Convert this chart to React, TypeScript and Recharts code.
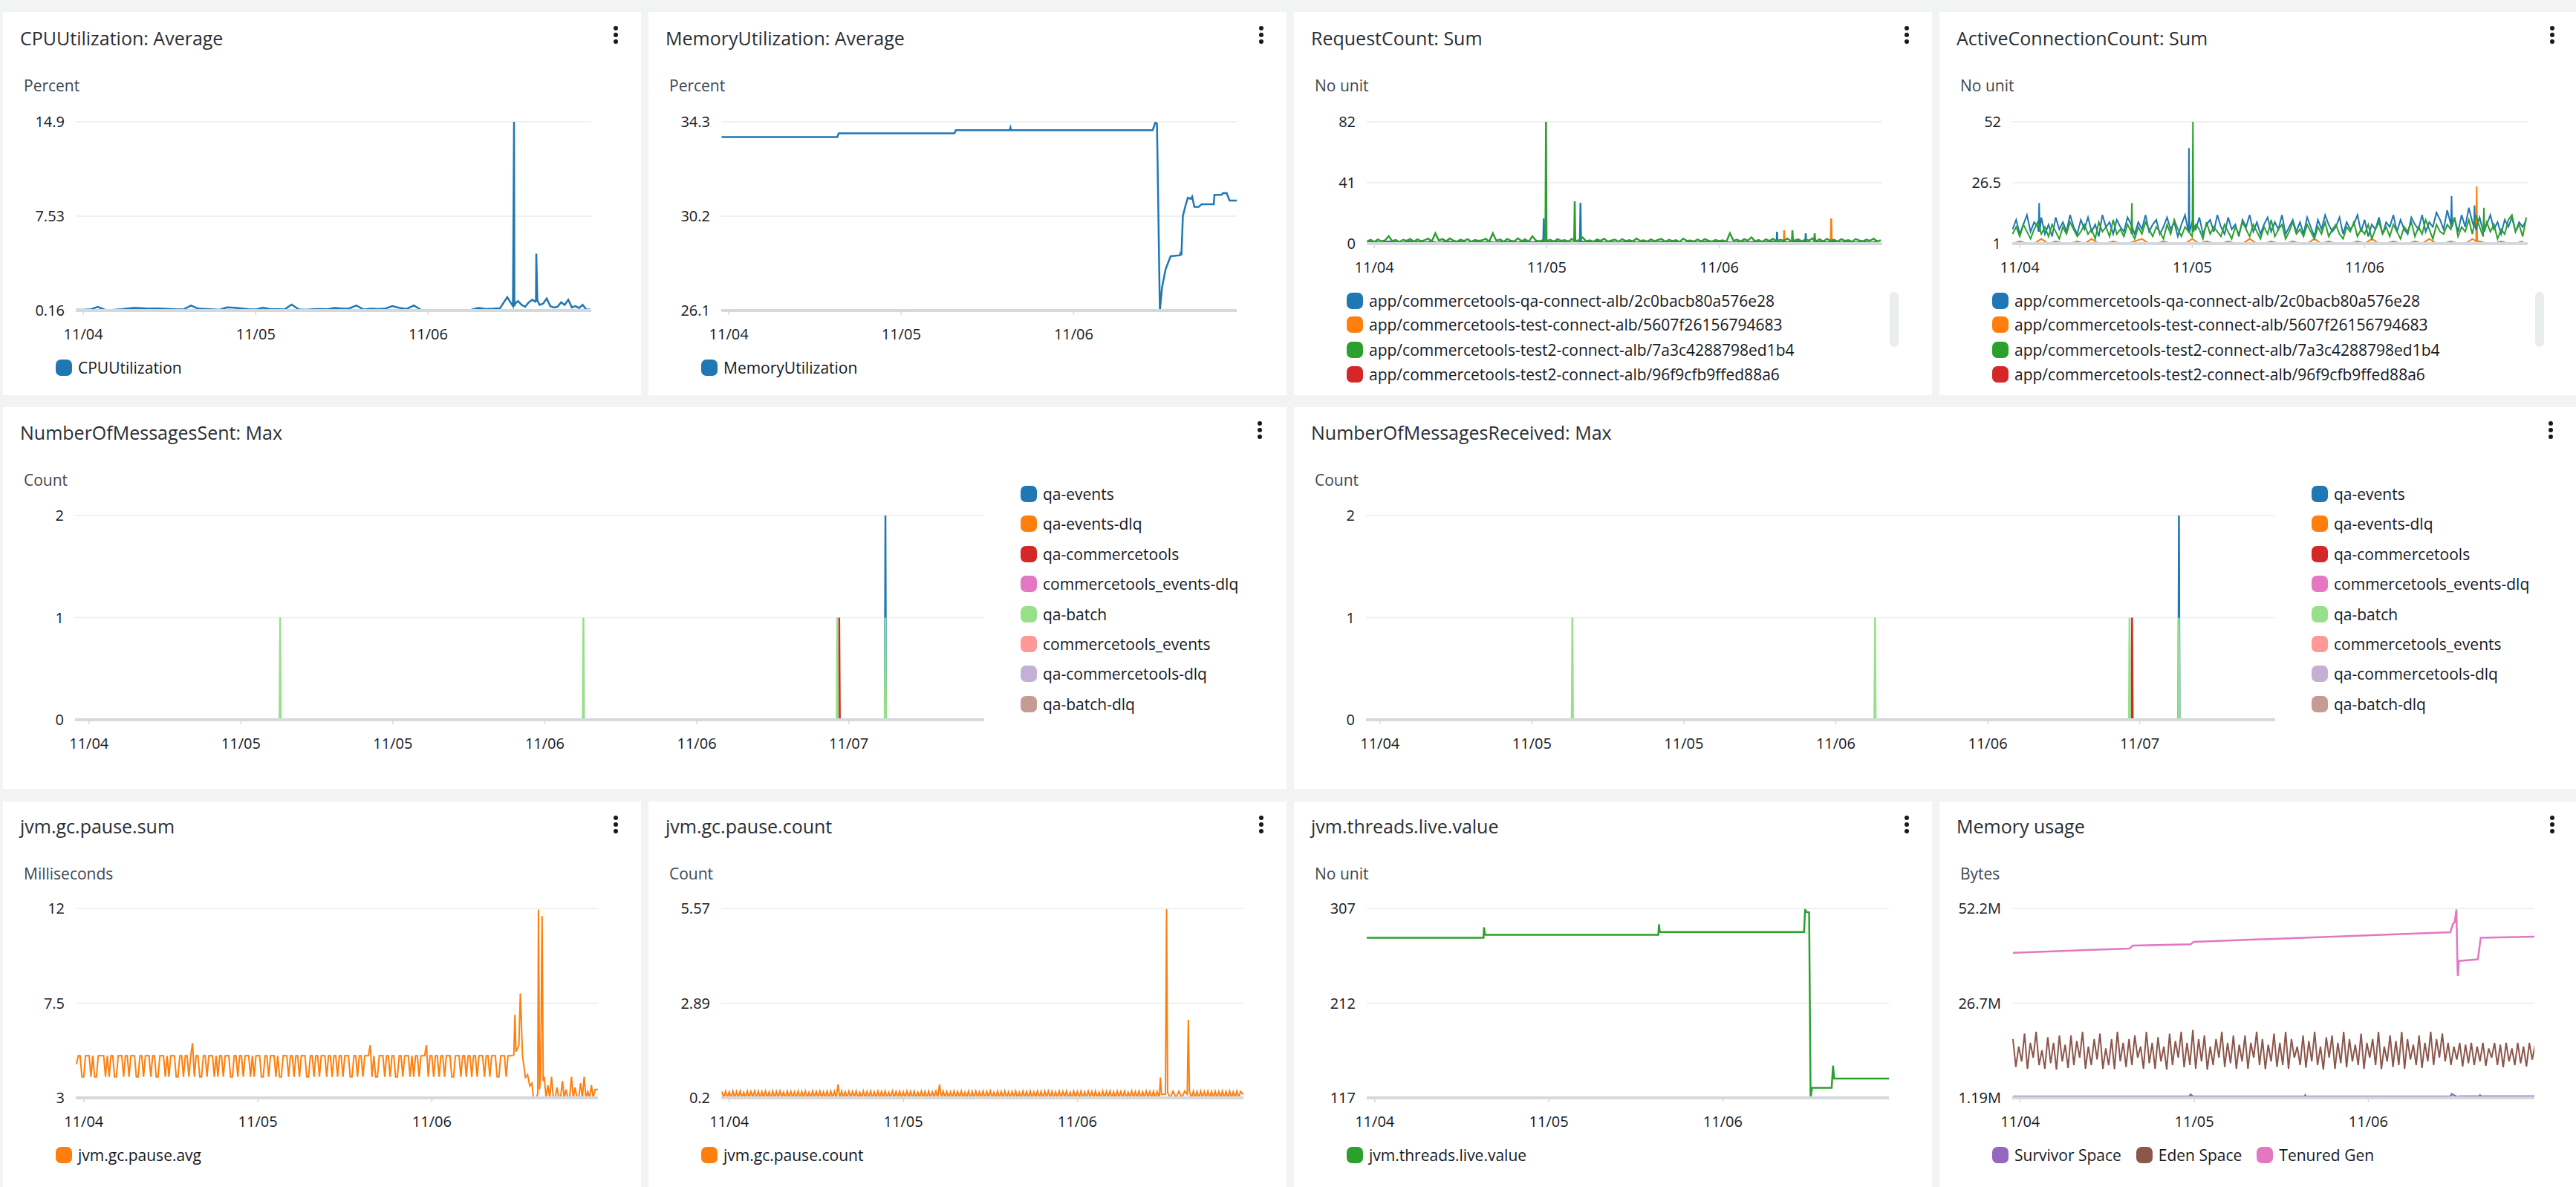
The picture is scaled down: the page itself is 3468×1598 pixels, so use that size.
import React from 'react';
import { LineChart, Line, XAxis, YAxis, CartesianGrid } from 'recharts';

type Pt = { t: number; v: number | null };
type Pair = [number, number | null];

// small helpers: typed values -> rows of {t (hours from 11/04), v}
const every = (start: number, step: number, values: number[]): Pt[] =>
  values.map((v, i) => ({ t: Math.round((start + i * step) * 1000) / 1000, v }));
const pairs = (list: Pair[]): Pt[] => list.map(([t, v]) => ({ t, v }));
const merge = (...parts: Pt[][]): Pt[] => parts.flat().sort((a, b) => a.t - b.t);

const FONT = '"Open Sans", "Noto Sans", sans-serif';

const C = {
  blue: '#1f77b4', orange: '#ff7f0e', green: '#2ca02c', red: '#d62728',
  purple: '#9467bd', brown: '#8c564b', pink: '#e377c2',
  lightGreen: '#98df8a', lightRed: '#ff9896', lightPurple: '#c5b0d5', lightBrown: '#c49c94',
};

// ---------- x axis ticks ----------
const dayTicks = [0, 24, 48];
const dayLabels = ['11/04', '11/05', '11/06'];
const halfDayTicks = [0, 12, 24, 36, 48, 60];
const halfDayLabels = ['11/04', '11/05', '11/05', '11/06', '11/06', '11/07'];

// ---------- CPUUtilization ----------
const cpuHourly = [
  0.22, 0.22, 0.24, 0.45, 0.22, 0.2, 0.24, 0.3, 0.36, 0.35,
  0.3, 0.32, 0.3, 0.28, 0.24, 0.26, 0.55, 0.3, 0.28, 0.25,
  0.22, 0.4, 0.38, 0.32, 0.26, 0.24, 0.38, 0.28, 0.26, 0.24,
  0.62, 0.24, 0.22, 0.26, 0.28, 0.26, 0.36, 0.3, 0.32, 0.55,
  0.24, 0.3, 0.28, 0.3, 0.5, 0.36, 0.28, 0.55, 0.22, 0.18,
  0.17, 0.17, 0.17, 0.17, 0.18, 0.22, 0.36, 0.28, 0.3, 0.34,
  1.2, 0.5, 0.6, 0.8, 0.9, 0.7, 0.5, 0.45, 0.6, 0.4,
  0.35, 0.25,
];
const cpuExtra: Pair[] = [
  [59.8, 0.5], [59.95, 14.9], [60.1, 0.7], [60.5, 0.9], [61.5, 0.45], [62.5, 1.0],
  [62.9, 0.85], [63.05, 4.6], [63.2, 0.95], [63.5, 0.6], [64.5, 1.1], [65.5, 0.4],
  [66.5, 0.8], [67.5, 1.0], [68.5, 0.5], [69.5, 0.6], [70.7, 0.22],
];

// ---------- MemoryUtilization ----------
const memUtilPoints: Pair[] = [
  [-1, 33.64], [15.1, 33.64], [15.3, 33.8], [31.4, 33.8], [31.6, 33.94], [39.1, 33.94],
  [39.2, 34.05], [39.3, 33.94], [59.0, 33.94], [59.4, 34.3], [59.6, 34.2], [60.0, 26.1],
  [60.3, 27.1], [60.8, 27.9], [61.5, 28.46], [62.8, 28.5], [62.9, 28.65], [63.0, 28.5],
  [63.2, 30.2], [63.6, 30.7], [63.9, 31.0], [64.3, 30.95], [64.5, 31.05], [64.8, 30.6],
  [65.4, 30.6], [65.8, 30.72], [67.5, 30.72], [67.6, 31.13], [68.6, 31.13], [68.8, 31.2],
  [69.3, 31.2], [69.7, 30.88], [70.7, 30.88],
];

// ---------- RequestCount ----------
const reqBlue = [
  0.8, 1.2, 0.5, 1.5, 0.9, 0.6, 1.8, 1.1, 0.7, 1.3,
  0.4, 1.6, 0.9, 1.2, 0.5, 1.9, 0.8, 1.1, 0.6, 1.4,
  1.0, 0.7, 1.5, 0.9, 1.2, 0.6, 1.7, 0.8, 1.0, 0.5,
  1.3, 0.9, 1.6, 0.7, 1.1, 0.4, 1.4, 1.0, 0.8, 1.5,
  0.6, 1.2, 0.9, 1.7, 0.5, 1.1, 0.8, 1.3, 0.7, 1.6,
  1.0, 0.6, 1.4, 0.9, 1.2, 0.5, 1.5, 0.8, 1.1, 0.7,
  1.8, 1.0, 0.6, 1.3, 0.9, 1.5, 0.7, 1.2, 0.8, 1.4,
  0.6, 1.1,
];
const reqOrange = [
  0.3, 0.1, 0.4, 0.2, 0.5, 0.1, 0.3, 0.6, 0.2, 0.4,
  0.1, 0.3, 0.5, 0.2, 0.4, 0.1, 0.6, 0.3, 0.2, 0.5,
  0.1, 0.4, 0.3, 0.2, 0.6, 0.1, 0.3, 0.5, 0.2, 0.4,
  0.3, 0.1, 0.5, 0.2, 0.4, 0.6, 0.1, 0.3, 0.2, 0.5,
  0.4, 0.1, 0.3, 0.6, 0.2, 0.4, 0.1, 0.5, 0.3, 0.2,
  0.6, 0.1, 0.4, 0.3, 0.2, 0.5, 0.1, 0.3, 0.4, 0.2,
  0.5, 0.3, 0.1, 0.4, 0.6, 0.2, 0.3, 0.1, 0.5, 0.2,
  0.4, 0.3,
];
const reqGreen = [
  1.5, 2.5, 1.2, 2.8, 1.6, 2.2, 5.0, 1.8, 2.4, 1.1,
  2.6, 1.9, 3.1, 1.4, 2.9, 1.7, 2.3, 3.4, 1.5, 7.0,
  2.0, 3.2, 1.6, 3.5, 2.1, 1.3, 2.7, 1.8, 3.0, 1.2,
  2.5, 1.9, 2.2, 3.3, 1.4, 7.0, 1.9, 2.8, 1.3, 3.2,
  2.0, 1.5, 3.6, 1.7, 2.9, 1.4, 5.0, 2.1, 1.6, 2.5,
  1.8, 2.6, 1.2, 3.0, 1.9, 2.3, 1.5, 3.1, 1.7, 2.4,
  4.2, 1.6, 2.2, 1.3, 2.8, 1.9, 3.3, 1.4, 2.1, 2.7,
  1.2, 3.0, 1.8, 2.4, 1.5, 3.5, 1.9, 2.2, 1.4, 2.9,
  1.7, 2.5, 3.2, 1.3, 2.6, 1.8, 2.3, 1.2, 3.4, 1.9,
  2.1, 1.5, 2.8, 1.6, 3.1, 2.0, 1.4, 2.5, 1.8, 2.2,
  1.3, 7.0, 1.9, 2.7, 1.5, 3.0, 2.1, 4.3, 1.6, 2.4,
  1.2, 2.9, 1.8, 3.3, 1.5, 2.6, 2.0, 3.4, 1.7, 2.2,
  3.0, 1.6, 2.8, 2.1, 3.5, 1.8, 2.9, 1.5, 3.2, 2.0,
  2.6, 1.4, 3.0, 1.9, 2.4, 1.3, 3.1, 2.2, 1.6, 2.7,
  1.9, 3.4, 1.5, 2.3,
];
const reqRed: Pair[] = [[-1.05, 0.1], [70.7, 0.1]];
const reqGreenSpikes: Pair[] = [
  [23.82, 2], [23.9, 82], [23.98, 2], [27.82, 2], [27.9, 28.5], [27.98, 2],
  [58.12, 2], [58.2, 9], [58.28, 2], [61.22, 2], [61.3, 7], [61.38, 2],
];
const reqBlueSpikes: Pair[] = [
  [23.52, 1], [23.6, 17], [23.68, 1], [28.62, 1], [28.7, 27.5], [28.78, 1],
  [55.97, 1], [56.05, 8], [56.13, 1], [59.97, 1], [60.05, 7], [60.13, 1],
];
const reqOrangeSpikes: Pair[] = [
  [56.92, 0.3], [57.05, 9], [57.13, 0.3], [63.52, 0.3], [63.6, 17], [63.68, 0.3],
];

// ---------- ActiveConnectionCount ----------
const accBlue = [
  7, 11, 5, 9, 13, 6, 10, 8, 12, 5,
  9, 4, 12, 7, 10, 6, 13, 8, 5, 11,
  7, 12, 6, 9, 4, 13, 8, 10, 5, 11,
  8, 6, 12, 9, 5, 10, 7, 13, 6, 9,
  11, 5, 8, 12, 7, 10, 4, 9, 13, 6,
  10, 7, 12, 5, 9, 11, 6, 13, 8, 5,
  12, 7, 9, 4, 11, 8, 13, 6, 10, 5,
  9, 12, 6, 10, 7, 13, 5, 8, 11, 6,
  10, 5, 12, 8, 4, 11, 7, 13, 9, 6,
  8, 12, 5, 10, 7, 9, 13, 6, 11, 4,
  9, 7, 12, 5, 10, 8, 13, 6, 11, 7,
  5, 12, 9, 7, 13, 6, 10, 8, 14, 11,
  7, 15, 9, 12, 6, 13, 8, 16, 10, 7,
  12, 6, 9, 13, 7, 10, 5, 11, 8, 12,
  6, 10, 8, 11,
];
const accGreen = [
  5, 8, 4, 9, 6, 3, 7, 10, 5, 8,
  4, 9, 6, 3, 8, 5, 10, 7, 4, 6,
  9, 5, 7, 3, 10, 6, 8, 4, 11, 5,
  7, 4, 9, 6, 3, 8, 5, 10, 7, 4,
  8, 6, 3, 9, 5, 11, 7, 4, 8, 6,
  4, 9, 7, 3, 10, 5, 8, 6, 4, 9,
  6, 3, 8, 5, 10, 7, 4, 9, 6, 3,
  8, 5, 11, 4, 7, 9, 3, 6, 10, 5,
  7, 4, 9, 6, 3, 8, 5, 10, 4, 7,
  9, 5, 3, 8, 6, 10, 4, 7, 5, 9,
  3, 7, 10, 5, 8, 4, 9, 6, 3, 8,
  6, 10, 4, 8, 5, 11, 7, 3, 9, 6,
  5, 9, 7, 12, 4, 8, 6, 11, 5, 13,
  8, 4, 10, 6, 9, 3, 7, 5, 11, 13,
  6, 9, 4, 12,
];
const accOrange = [
  1, 2, 1, 1, 3, 1, 2, 1, 1, 2,
  1, 3, 1, 1, 2, 1, 1, 2, 3, 1,
  1, 2, 1, 1, 1, 3, 1, 2, 1, 1,
  2, 1, 1, 3, 1, 1, 2, 1, 1, 2,
  1, 1, 3, 1, 2, 1, 1, 1, 2, 1,
  3, 1, 1, 2, 1, 1, 2, 1, 3, 1,
  1, 2, 1, 1, 3, 2, 1, 1, 2, 1,
  1, 2,
];
const accRed: Pair[] = [[-1.05, 1], [70.7, 1]];
const accBlueSpikes: Pair[] = [
  [2.62, 6], [2.7, 18], [2.78, 6], [23.47, 6], [23.55, 41], [23.63, 6],
  [60.02, 8], [60.1, 21], [60.18, 8], [63.22, 8], [63.3, 17], [63.38, 8],
];
const accGreenSpikes: Pair[] = [
  [15.52, 5], [15.6, 18], [15.68, 5], [24.02, 6], [24.1, 52], [24.18, 6],
  [64.52, 6], [64.6, 16], [64.68, 6],
];
const accOrangeSpikes: Pair[] = [[63.52, 2], [63.6, 25], [63.68, 2]];

// ---------- NumberOfMessagesSent ----------
const sentFlat: Pair[] = [[-1.1, 0], [70.7, 0]];
const sentQaEvents: Pair[] = [[-1.1, 0], [62.85, 0], [62.9, 2], [62.95, 0], [70.7, 0]];
const sentQaCommercetools: Pair[] = [[-1.1, 0], [59.2, 0], [59.25, 1], [59.3, 0], [70.7, 0]];
const sentQaBatch: Pair[] = [
  [-1.1, 0], [15.05, 0], [15.1, 1], [15.15, 0], [39.0, 0], [39.05, 1], [39.1, 0],
  [59.05, 0], [59.1, 1], [59.15, 0], [62.85, 0], [62.9, 1], [62.95, 0], [70.7, 0],
];
const sentQaBatchDlq: Pair[] = [
  [10.6, 0], [16.6, 0], [16.65, null], [34.4, 0], [40.7, 0], [40.75, null], [58.4, 0], [66.2, 0],
];

// ---------- NumberOfMessagesReceived ----------
const recvQaEvents: Pair[] = [[-1.1, 0], [63.05, 0], [63.1, 2], [63.15, 0], [70.7, 0]];
const recvQaCommercetools: Pair[] = [[-1.1, 0], [59.35, 0], [59.4, 1], [59.45, 0], [70.7, 0]];
const recvQaBatch: Pair[] = [
  [-1.1, 0], [15.15, 0], [15.2, 1], [15.25, 0], [39.05, 0], [39.1, 1], [39.15, 0],
  [59.15, 0], [59.2, 1], [59.25, 0], [63.05, 0], [63.1, 1], [63.15, 0], [70.7, 0],
];
const recvQaBatchDlq: Pair[] = [
  [10.5, 0], [16.5, 0], [16.55, null], [34.5, 0], [40.7, 0], [40.75, null], [58.6, 0], [66.3, 0],
];

// ---------- jvm.gc.pause.avg (quarter-hour samples up to 58.75h) ----------
const gcAvgA = [
  4.6, 5, 5, 4, 4, 5, 5, 5, 4, 5, 4, 4, 5, 5, 5, 5, 4, 5, 4, 5,
  5, 4, 4, 5, 5, 5, 4, 5, 5, 4, 5, 5, 5, 4, 4, 5, 5, 4, 5, 5,
  5, 4, 5, 5, 4, 4, 5, 5, 5, 4, 5, 4, 5, 5, 5, 4, 4, 5, 5, 4,
  5, 5, 4, 5, 5.6, 4, 5, 5, 4, 4, 5, 5, 4, 5, 5, 5, 4, 5, 4, 5,
  5, 4, 5, 5, 5, 4, 4, 5, 5, 4, 5, 5, 4, 5, 5, 5, 4, 5, 4, 5,
  5, 5, 4, 4, 5, 5, 4, 5, 5, 5, 4, 5, 4, 4, 5, 5, 5, 4, 5, 5,
  4, 5, 5, 4, 5, 5, 5, 4, 4, 5, 5, 4, 5, 5, 4, 5, 5, 5, 4, 5,
  5, 4, 5, 5, 4, 5, 5, 4, 5, 5, 5, 4, 4, 5, 5, 4, 5, 5, 4, 5,
  5, 5, 5.5, 4, 5, 4, 4, 5, 5, 5, 4, 5, 5, 4, 5, 5, 4, 4, 5, 5,
  4, 5, 5, 5, 4, 5, 4, 5, 5, 4, 5, 5, 5, 5.5, 4, 5, 5, 4, 5, 5,
  4, 5, 5, 4, 5, 5, 5, 4, 4, 5, 5, 5, 4, 5, 5, 4, 5, 5, 4, 5,
  5, 4, 5, 5, 5, 4, 5, 5, 4, 5, 5, 5, 4, 4, 5, 5, 5, 4, 5, 5,
];
const gcAvgB: Pair[] = [
  [59.0, 5.0], [59.3, 5.04], [59.45, 6.95], [59.6, 5.2], [60.0, 5.5], [60.2, 7.96],
  [60.5, 5.0], [60.9, 3.97], [61.2, 4.1], [61.5, 3.56], [61.8, 3.7], [62.0, 3.0],
  [62.4, 3.0], [62.6, 3.2], [62.7, 11.95], [62.85, 3.4], [63.0, 4.0], [63.2, 11.64],
  [63.35, 3.8], [63.5, 4.0], [70.9, 3.4],
];
const gcAvgC = [
  3, 3.6, 3, 4, 3, 3, 3.5, 3, 3, 3.8, 3, 3.4, 3, 3,
  4, 3, 3.5, 3, 3, 3.7, 3, 4, 3, 3.3, 3, 3.6, 3, 3.4,
];

// ---------- jvm.gc.pause.count (quarter-hour samples up to 58.75h) ----------
const gcCountA = [
  0.38, 0.2, 0.39, 0.2, 0.37, 0.2, 0.39, 0.21, 0.38, 0.2, 0.39, 0.2, 0.36, 0.2, 0.39, 0.2, 0.38, 0.22, 0.39, 0.2,
  0.39, 0.2, 0.38, 0.21, 0.39, 0.2, 0.37, 0.2, 0.39, 0.2, 0.38, 0.2, 0.39, 0.22, 0.36, 0.2, 0.39, 0.2, 0.38, 0.21,
  0.37, 0.2, 0.39, 0.2, 0.38, 0.21, 0.39, 0.2, 0.36, 0.2, 0.39, 0.22, 0.38, 0.2, 0.39, 0.2, 0.37, 0.21, 0.39, 0.2,
  0.39, 0.2, 0.38, 0.2, 0.58, 0.2, 0.39, 0.21, 0.37, 0.2, 0.39, 0.2, 0.38, 0.22, 0.39, 0.2, 0.36, 0.2, 0.39, 0.2,
  0.38, 0.21, 0.39, 0.2, 0.37, 0.2, 0.39, 0.2, 0.38, 0.22, 0.39, 0.2, 0.36, 0.2, 0.39, 0.21, 0.38, 0.2, 0.39, 0.2,
  0.37, 0.2, 0.39, 0.22, 0.38, 0.2, 0.39, 0.2, 0.36, 0.21, 0.39, 0.2, 0.38, 0.2, 0.39, 0.2, 0.37, 0.22, 0.39, 0.2,
  0.58, 0.2, 0.39, 0.21, 0.38, 0.2, 0.37, 0.2, 0.39, 0.22, 0.38, 0.2, 0.39, 0.2, 0.36, 0.21, 0.39, 0.2, 0.38, 0.2,
  0.39, 0.2, 0.37, 0.21, 0.39, 0.2, 0.38, 0.22, 0.39, 0.2, 0.36, 0.2, 0.39, 0.2, 0.38, 0.21, 0.39, 0.2, 0.37, 0.2,
  0.38, 0.22, 0.39, 0.2, 0.36, 0.2, 0.39, 0.21, 0.38, 0.2, 0.39, 0.2, 0.37, 0.22, 0.39, 0.2, 0.38, 0.2, 0.39, 0.21,
  0.39, 0.2, 0.38, 0.2, 0.37, 0.21, 0.39, 0.2, 0.38, 0.22, 0.39, 0.2, 0.36, 0.2, 0.39, 0.21, 0.38, 0.2, 0.39, 0.2,
  0.37, 0.2, 0.39, 0.22, 0.38, 0.2, 0.39, 0.21, 0.36, 0.2, 0.39, 0.2, 0.38, 0.22, 0.39, 0.2, 0.37, 0.2, 0.39, 0.21,
  0.38, 0.2, 0.39, 0.2, 0.36, 0.22, 0.39, 0.2, 0.38, 0.21, 0.39, 0.2, 0.37, 0.2, 0.39, 0.22, 0.38, 0.2, 0.39, 0.2,
];
const gcCountB: Pair[] = [
  [59.0, 0.38], [59.3, 0.2], [59.45, 0.78], [59.6, 0.3], [60.15, 0.3], [60.3, 5.55],
  [60.45, 0.35], [60.8, 0.2], [61.2, 0.39], [61.6, 0.2], [62.0, 0.39], [62.4, 0.2],
  [62.8, 0.39], [63.15, 0.3], [63.3, 2.41], [63.45, 0.39], [70.9, 0.3],
];
const gcCountC = [
  0.2, 0.39, 0.2, 0.38, 0.2, 0.39, 0.21, 0.38, 0.2, 0.39, 0.2, 0.38, 0.2, 0.39,
  0.2, 0.38, 0.21, 0.39, 0.2, 0.38, 0.2, 0.39, 0.2, 0.37, 0.21, 0.39, 0.2, 0.38,
];

// ---------- jvm.threads.live ----------
const threadPoints: Pair[] = [
  [-1.1, 277.6], [15.0, 277.6], [15.07, 288], [15.2, 280.6], [39.1, 280.6], [39.2, 291],
  [39.3, 283.4], [59.2, 283.4], [59.35, 306.2], [59.5, 303.5], [59.9, 303], [60.1, 117],
  [60.3, 127], [63.0, 127], [63.2, 149.4], [63.35, 136.3], [70.9, 136.3],
];

// ---------- Memory usage (millions of bytes) ----------
const survivorPoints: Pair[] = [
  [-1, 1.53], [23.3, 1.53], [23.5, 2.1], [23.8, 1.6], [39.2, 1.53], [39.3, 1.9], [39.4, 1.53],
  [59.3, 1.53], [59.5, 2.2], [60.3, 1.4], [60.6, 1.6], [63.3, 1.6], [63.4, 1.9], [63.5, 1.6], [71, 1.6],
];
// Eden space sampled every 0.4h from -1h
const edenValues = [
  17, 9.5, 15, 11, 18.5, 9, 16, 12, 19, 10, 14, 9, 17.5, 10.5, 16, 8.8, 18, 11, 15.5, 9.2,
  18, 10, 16.5, 12, 19, 9, 15, 10, 17, 11.5, 18.5, 9, 14.5, 10, 17, 8.9, 19, 11, 16, 9.5,
  17, 10, 18, 12, 15, 9, 19, 10.5, 16, 9, 17.5, 11, 15, 8.8, 18.5, 10, 16.5, 12, 19, 9.4,
  16, 10, 19.5, 9, 17, 11, 18, 8.8, 15, 10, 17, 12, 19, 9.5, 16, 10.5, 18, 9, 15.5, 11,
  18, 9, 16, 12, 19, 10, 17, 8.9, 15.5, 11, 18.5, 9.5, 16, 10, 19, 9, 17, 12, 15, 10,
  18, 9.3, 16.5, 11, 19, 10, 15, 8.8, 17.5, 12, 18, 9, 16, 10.5, 19, 9.4, 17, 11, 15.5, 10,
  18.5, 9, 16, 12, 17, 10, 19, 8.9, 15, 11, 18, 9.5, 16.5, 10, 19, 9, 17, 11.5, 15.5, 10,
  18, 9.2, 16, 11, 19, 10, 17, 12, 18.5, 11, 16, 10, 15, 11.5, 16, 9.6, 15.5, 10.5, 16, 10,
  15, 11, 16, 9.8, 14.5, 12, 16, 10, 15.5, 9.4, 16, 11, 14.5, 10, 16, 10.5, 15, 9.6, 16, 11.5,
  15.5,
];
const tenuredPoints: Pair[] = [
  [-1, 40.27], [15.1, 41.4], [15.5, 42.2], [23.5, 42.56], [23.9, 43.2], [59.3, 45.8],
  [59.7, 48.2], [59.9, 48.4], [60.15, 51.9], [60.3, 36.0], [60.35, 34.0], [60.5, 38.05],
  [63.1, 38.5], [63.5, 44.3], [71, 44.6],
];

// ---------- chart / panel specs ----------
type Series = { name: string; color: string; data: Pt[]; width?: number };
type Geo = { plotTop: number; plotBottom: number; plotLeft: number; plotRight: number };
type LegendSpec = { x: number; ys?: number[]; y?: number; swatchGap?: number; items: { name: string; color: string }[] };
type PanelSpec = {
  x: number; y: number; w: number; h: number; titleY: number; unitY: number; menuX: number;
  title: string; unit: string; geo: Geo;
  xDomain: [number, number]; xTicks: number[]; xLabels: string[];
  yDomain: [number, number]; yTicks: number[]; yLabels: string[];
  series: Series[]; legend: LegendSpec; scrollbar?: boolean;
};

const colX = [4, 873, 1742, 2611];
const colW = 859;
const rowY = [16, 548, 1079];
const rowH = [516, 514, 519];

const geoRow1: Geo = { plotTop: 148, plotBottom: 402, plotLeft: 98, plotRight: 792 };
const geoAlb: Geo = { plotTop: 148, plotBottom: 312, plotLeft: 98, plotRight: 792 };
const geoRow2: Geo = { plotTop: 146, plotBottom: 421, plotLeft: 97, plotRight: 1321 };
const geoRow3: Geo = { plotTop: 144, plotBottom: 399, plotLeft: 98, plotRight: 801 };

const albNames = [
  'app/commercetools-qa-connect-alb/2c0bacb80a576e28',
  'app/commercetools-test-connect-alb/5607f26156794683',
  'app/commercetools-test2-connect-alb/7a3c4288798ed1b4',
  'app/commercetools-test2-connect-alb/96f9cfb9ffed88a6',
];
const albColors = [C.blue, C.orange, C.green, C.red];
const albLegend: LegendSpec = {
  x: 71, ys: [389, 421, 455, 488],
  items: albNames.map((name, i) => ({ name, color: albColors[i] })),
};

const queueNames = [
  'qa-events', 'qa-events-dlq', 'qa-commercetools', 'commercetools_events-dlq',
  'qa-batch', 'commercetools_events', 'qa-commercetools-dlq', 'qa-batch-dlq',
];
const queueColors = [C.blue, C.orange, C.red, C.pink, C.lightGreen, C.lightRed, C.lightPurple, C.lightBrown];
const queueLegend: LegendSpec = {
  x: 1370, swatchGap: 8, ys: [117, 157, 198, 238, 279, 319, 359, 400],
  items: queueNames.map((name, i) => ({ name, color: queueColors[i] })),
};

const queueSeries = (events: Pair[], commerce: Pair[], batch: Pair[], batchDlq: Pair[]): Series[] => [
  { name: 'qa-events', color: C.blue, data: pairs(events) },
  { name: 'qa-events-dlq', color: C.orange, data: pairs(sentFlat) },
  { name: 'qa-commercetools', color: C.red, data: pairs(commerce) },
  { name: 'commercetools_events-dlq', color: C.pink, data: pairs(sentFlat) },
  { name: 'commercetools_events', color: C.lightRed, data: pairs(sentFlat) },
  { name: 'qa-commercetools-dlq', color: C.lightPurple, data: pairs(sentFlat) },
  { name: 'qa-batch', color: C.lightGreen, data: pairs(batch) },
  { name: 'qa-batch-dlq', color: C.lightBrown, data: pairs(batchDlq) },
];

const row1Common = { y: rowY[0], w: colW, h: rowH[0], titleY: 35, unitY: 99, menuX: 825, xDomain: [-1.05, 70.7] as [number, number], xTicks: dayTicks, xLabels: dayLabels };
const row3Common = { y: rowY[2], w: colW, h: rowH[2], titleY: 33, unitY: 97, menuX: 825, geo: geoRow3, xDomain: [-1.1, 70.9] as [number, number], xTicks: dayTicks, xLabels: dayLabels };
const row2Common = { y: rowY[1], w: 1728, h: rowH[1], titleY: 34, unitY: 98, menuX: 1692, geo: geoRow2, xDomain: [-1.1, 70.7] as [number, number], xTicks: halfDayTicks, xLabels: halfDayLabels, unit: 'Count', yDomain: [0, 2] as [number, number], yTicks: [0, 1, 2], yLabels: ['0', '1', '2'], legend: queueLegend };

const panels: PanelSpec[] = [
  {
    ...row1Common, x: colX[0], geo: geoRow1, title: 'CPUUtilization: Average', unit: 'Percent',
    yDomain: [0.16, 14.9], yTicks: [0.16, 7.53, 14.9], yLabels: ['0.16', '7.53', '14.9'],
    series: [{ name: 'CPUUtilization', color: C.blue, data: merge(every(-1, 1, cpuHourly), pairs(cpuExtra)) }],
    legend: { x: 71, y: 479, items: [{ name: 'CPUUtilization', color: C.blue }] },
  },
  {
    ...row1Common, x: colX[1], geo: geoRow1, title: 'MemoryUtilization: Average', unit: 'Percent',
    yDomain: [26.1, 34.3], yTicks: [26.1, 30.2, 34.3], yLabels: ['26.1', '30.2', '34.3'],
    series: [{ name: 'MemoryUtilization', color: C.blue, data: pairs(memUtilPoints) }],
    legend: { x: 71, y: 479, items: [{ name: 'MemoryUtilization', color: C.blue }] },
  },
  {
    ...row1Common, x: colX[2], geo: geoAlb, title: 'RequestCount: Sum', unit: 'No unit', scrollbar: true,
    yDomain: [0, 82], yTicks: [0, 41, 82], yLabels: ['0', '41', '82'],
    series: [
      { name: albNames[3], color: C.red, data: pairs(reqRed) },
      { name: albNames[1], color: C.orange, data: merge(every(-1, 1, reqOrange), pairs(reqOrangeSpikes)) },
      { name: albNames[0], color: C.blue, data: merge(every(-1, 1, reqBlue), pairs(reqBlueSpikes)) },
      { name: albNames[2], color: C.green, data: merge(every(-1, 0.5, reqGreen), pairs(reqGreenSpikes)) },
    ],
    legend: albLegend,
  },
  {
    ...row1Common, x: colX[3], geo: geoAlb, title: 'ActiveConnectionCount: Sum', unit: 'No unit', scrollbar: true,
    yDomain: [1, 52], yTicks: [1, 26.5, 52], yLabels: ['1', '26.5', '52'],
    series: [
      { name: albNames[3], color: C.red, data: pairs(accRed) },
      { name: albNames[1], color: C.orange, data: merge(every(-1, 1, accOrange), pairs(accOrangeSpikes)), width: 2 },
      { name: albNames[0], color: C.blue, data: merge(every(-1, 0.5, accBlue), pairs(accBlueSpikes)), width: 2 },
      { name: albNames[2], color: C.green, data: merge(every(-1, 0.5, accGreen), pairs(accGreenSpikes)), width: 2 },
    ],
    legend: albLegend,
  },
  {
    ...row2Common, x: colX[0], title: 'NumberOfMessagesSent: Max',
    series: queueSeries(sentQaEvents, sentQaCommercetools, sentQaBatch, sentQaBatchDlq),
  },
  {
    ...row2Common, x: colX[2], title: 'NumberOfMessagesReceived: Max',
    series: queueSeries(recvQaEvents, recvQaCommercetools, recvQaBatch, recvQaBatchDlq),
  },
  {
    ...row3Common, x: colX[0], title: 'jvm.gc.pause.sum', unit: 'Milliseconds',
    yDomain: [3, 12], yTicks: [3, 7.5, 12], yLabels: ['3', '7.5', '12'],
    series: [{ name: 'jvm.gc.pause.avg', color: C.orange, width: 2, data: merge(every(-1, 0.25, gcAvgA), pairs(gcAvgB), every(63.75, 0.25, gcAvgC)) }],
    legend: { x: 71, y: 476, items: [{ name: 'jvm.gc.pause.avg', color: C.orange }] },
  },
  {
    ...row3Common, x: colX[1], title: 'jvm.gc.pause.count', unit: 'Count',
    yDomain: [0.2, 5.57], yTicks: [0.2, 2.885, 5.57], yLabels: ['0.2', '2.89', '5.57'],
    series: [{ name: 'jvm.gc.pause.count', color: C.orange, width: 2, data: merge(every(-1, 0.25, gcCountA), pairs(gcCountB), every(63.75, 0.25, gcCountC)) }],
    legend: { x: 71, y: 476, items: [{ name: 'jvm.gc.pause.count', color: C.orange }] },
  },
  {
    ...row3Common, x: colX[2], title: 'jvm.threads.live.value', unit: 'No unit',
    yDomain: [117, 307], yTicks: [117, 212, 307], yLabels: ['117', '212', '307'],
    series: [{ name: 'jvm.threads.live.value', color: C.green, data: pairs(threadPoints) }],
    legend: { x: 71, y: 476, items: [{ name: 'jvm.threads.live.value', color: C.green }] },
  },
  {
    ...row3Common, x: colX[3], title: 'Memory usage', unit: 'Bytes',
    yDomain: [1.19, 52.2], yTicks: [1.19, 26.695, 52.2], yLabels: ['1.19M', '26.7M', '52.2M'],
    series: [
      { name: 'Survivor Space', color: C.purple, data: pairs(survivorPoints) },
      { name: 'Eden Space', color: C.brown, data: every(-1, 0.4, edenValues), width: 2 },
      { name: 'Tenured Gen', color: C.pink, data: pairs(tenuredPoints) },
    ],
    legend: {
      x: 71, y: 476,
      items: [
        { name: 'Survivor Space', color: C.purple },
        { name: 'Eden Space', color: C.brown },
        { name: 'Tenured Gen', color: C.pink },
      ],
    },
  },
];

// ---------- components ----------
function LegendItem({ name, color, gap }: { name: string; color: string; gap: number }) {
  return (
    <div style={{ display: 'flex', alignItems: 'center', height: 26 }}>
      <span style={{ width: 22, height: 22, borderRadius: 7, background: color, marginRight: gap, flex: 'none' }} />
      <span style={{ fontSize: 21, color: '#16191f', whiteSpace: 'nowrap', lineHeight: '26px' }}>{name}</span>
    </div>
  );
}

function PanelLegend({ legend }: { legend: LegendSpec }) {
  const gap = legend.swatchGap ?? 8;
  if (legend.ys) {
    return (
      <>
        {legend.items.map((it, i) => (
          <div key={it.name} style={{ position: 'absolute', left: legend.x, top: legend.ys![i] - 13 }}>
            <LegendItem name={it.name} color={it.color} gap={gap} />
          </div>
        ))}
      </>
    );
  }
  return (
    <div style={{ position: 'absolute', left: legend.x, top: (legend.y ?? 0) - 13, display: 'flex', gap: 20 }}>
      {legend.items.map((it) => (
        <LegendItem key={it.name} name={it.name} color={it.color} gap={gap} />
      ))}
    </div>
  );
}

function MenuDots({ x }: { x: number }) {
  return (
    <>
      {[22, 31, 40].map((cy) => (
        <div key={cy} style={{ position: 'absolute', left: x - 3, top: cy - 3, width: 6, height: 6, borderRadius: 3, background: '#16191f' }} />
      ))}
    </>
  );
}

function Panel({ p }: { p: PanelSpec }) {
  const { geo } = p;
  const tickStyle = { fill: '#16191f', fontSize: 20, fontFamily: FONT };
  return (
    <div style={{ position: 'absolute', left: p.x, top: p.y, width: p.w, height: p.h, background: '#ffffff', overflow: 'hidden' }}>
      <div style={{ position: 'absolute', left: 23, top: p.titleY - 17, fontSize: 25, lineHeight: '34px', color: '#2a2e33', whiteSpace: 'nowrap' }}>
        {p.title}
      </div>
      <MenuDots x={p.menuX} />
      <div style={{ position: 'absolute', left: 28, top: p.unitY - 14, fontSize: 21, lineHeight: '28px', color: '#414750' }}>
        {p.unit}
      </div>
      <div style={{ position: 'absolute', left: 0, top: 0 }}>
        <LineChart
          width={p.w}
          height={geo.plotBottom + 60}
          margin={{ top: geo.plotTop, right: p.w - geo.plotRight, bottom: 0, left: 0 }}
        >
          <CartesianGrid vertical={false} stroke="#eaeded" strokeWidth={1.5} />
          <XAxis
            type="number"
            dataKey="t"
            domain={p.xDomain}
            ticks={p.xTicks}
            interval={0}
            allowDataOverflow
            height={60}
            tick={tickStyle}
            tickSize={6}
            tickMargin={19}
            tickLine={{ stroke: '#d5d8dc', strokeWidth: 1.5 }}
            axisLine={{ stroke: '#d5d8dc', strokeWidth: 4 }}
            tickFormatter={(v: number) => p.xLabels[p.xTicks.indexOf(v)] ?? ''}
          />
          <YAxis
            type="number"
            domain={p.yDomain}
            ticks={p.yTicks}
            interval={0}
            allowDataOverflow
            width={geo.plotLeft}
            axisLine={false}
            tickLine={false}
            tickSize={0}
            tickMargin={15}
            tick={tickStyle}
            tickFormatter={(v: number) => p.yLabels[p.yTicks.indexOf(v)] ?? ''}
          />
          {p.series.map((s) => (
            <Line
              key={s.name}
              data={s.data}
              dataKey="v"
              name={s.name}
              type="linear"
              stroke={s.color}
              strokeWidth={s.width ?? 2.5}
              dot={false}
              activeDot={false}
              connectNulls={false}
              isAnimationActive={false}
            />
          ))}
        </LineChart>
      </div>
      {p.scrollbar && (
        <div style={{ position: 'absolute', left: 802, top: 377, width: 12, height: 74, borderRadius: 6, background: '#eaeded' }} />
      )}
      <PanelLegend legend={p.legend} />
    </div>
  );
}

export default function App() {
  return (
    <div style={{ position: 'fixed', left: 0, top: 0, width: 3468, height: 1598, background: '#f2f3f3', overflow: 'hidden', fontFamily: FONT }}>
      {panels.map((p) => (
        <Panel key={p.title} p={p} />
      ))}
    </div>
  );
}
